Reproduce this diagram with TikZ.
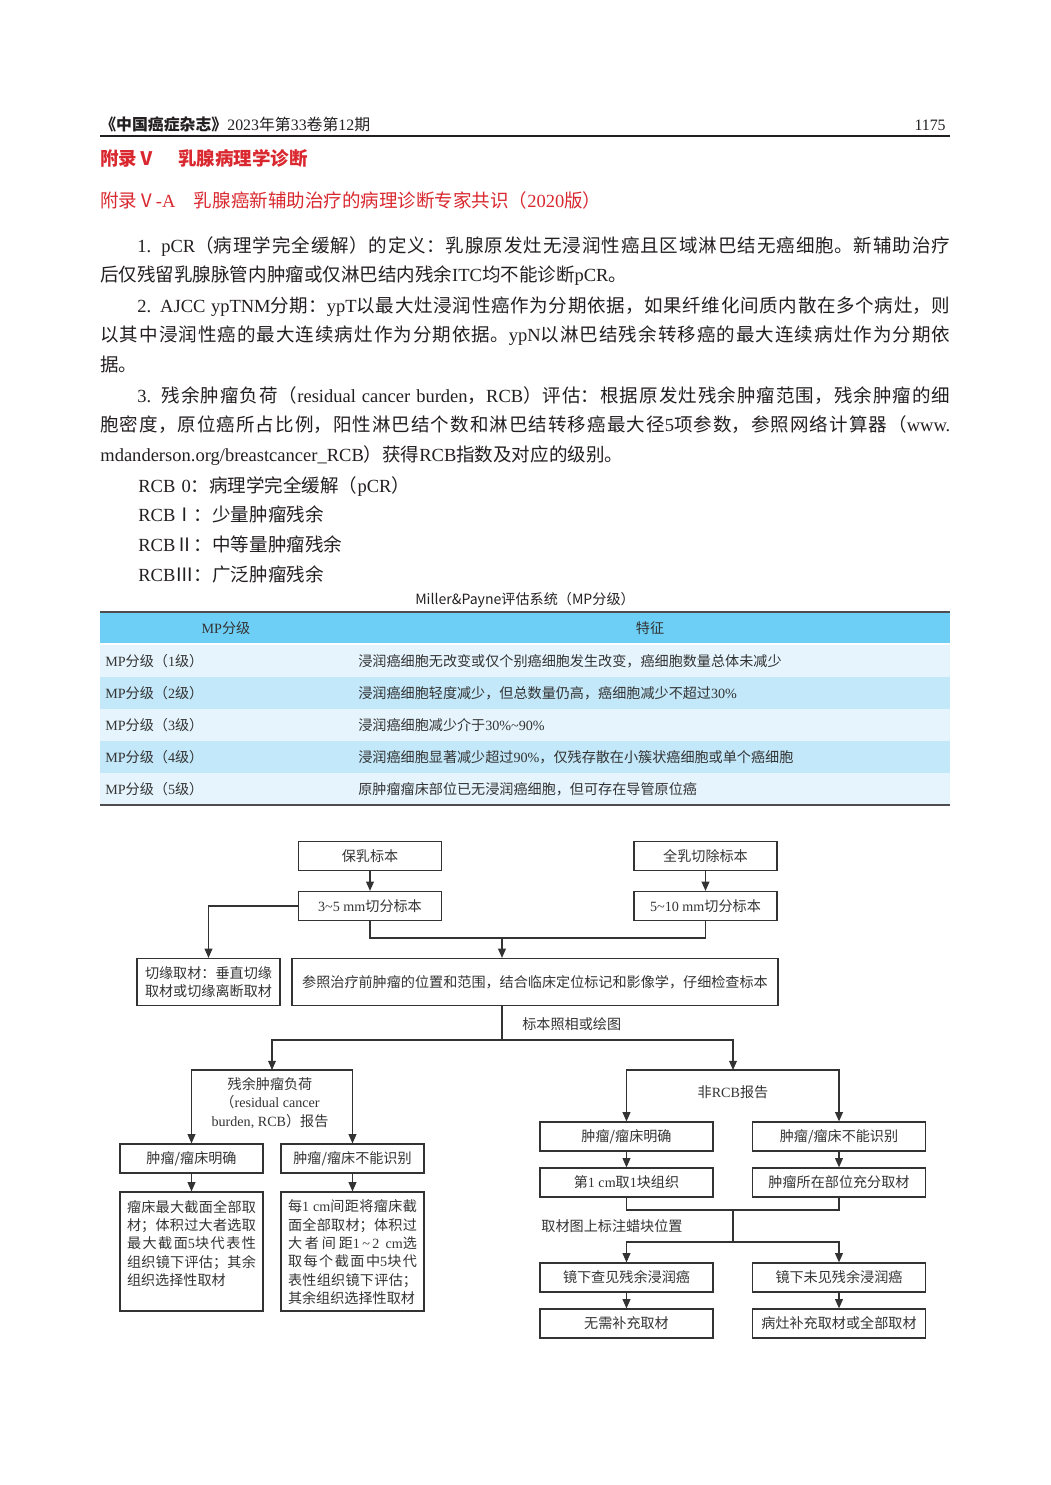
\documentclass[tikz,border=0pt]{standalone}
\usepackage{fontspec}
\setmainfont{Noto Sans CJK SC}
\newfontfamily\latinserif{Liberation Serif}
\newcommand\en[1]{{\latinserif #1}}
\usetikzlibrary{arrows.meta,positioning}
\XeTeXlinebreaklocale "zh"
\XeTeXlinebreakskip=0pt plus 1pt
\newlength\px
\setlength\px{0.567pt}
\definecolor{ink}{HTML}{231F20}
\definecolor{redhead}{HTML}{D9282F}
\definecolor{tblhead}{HTML}{6DCFF6}
\definecolor{rowlight}{HTML}{E6F5FD}
\definecolor{rowdark}{HTML}{C3E8F9}
\definecolor{rulegray}{HTML}{4D4D4F}
\definecolor{flowline}{HTML}{333333}
\newcommand\bodysize{\fontsize{10.5pt}{17pt}\selectfont}
\newcommand\flowsize{\fontsize{8pt}{10.4pt}\selectfont}
\newcommand\tablesize{\fontsize{8pt}{10pt}\selectfont}
\tikzset{
  pixels/.style={x=0.567pt, y=-0.567pt},
  bodytext/.style={anchor=base west, inner sep=0pt, text width=850\px, align=justify, font=\bodysize, text=ink},
  headred/.style={anchor=base west, inner sep=0pt, font=\bodysize, text=redhead},
  cell/.style={anchor=west, inner sep=0pt, font=\tablesize, text=flowline},
  flowbox/.style={shape=rectangle, draw=flowline, line width=0.7pt, inner sep=0pt, minimum height=29\px, font=\flowsize, text=flowline},
  narrowbox/.style={flowbox, minimum width=143\px},
  widebox/.style={flowbox, minimum width=173\px},
  flowlabel/.style={inner sep=0pt, font=\flowsize, text=flowline},
  link/.style={draw=flowline, line width=0.7pt},
  arrowlink/.style={link, -{Triangle[length=5.2pt, width=4.4pt]}},
}
\begin{document}
\begin{tikzpicture}[pixels]
    \useasboundingbox (0,0) rectangle (1050,1485);
    % running head
    \node[anchor=base west, inner sep=0pt, font=\fontsize{9pt}{11pt}\selectfont, text=ink] (journal) at (100,130) {{\bfseries《中国癌症杂志》}\en{2023}年第\en{33}卷第\en{12}期};
    \node[anchor=base east, inner sep=0pt, font=\fontsize{9pt}{11pt}\selectfont, text=ink] (pageno) at (946,130) {\en{1175}};
    \draw[ink, line width=0.6pt] (100,136) -- (950,136);
    \node[headred, font=\bodysize\bfseries] (appendix) at (100,165) {附录Ⅴ\hspace{1.2em}乳腺病理学诊断};
    \node[headred] (consensus) at (100,207) {附录Ⅴ\en{-A}\hspace{1em}乳腺癌新辅助治疗的病理诊断专家共识（\en{2020}版）};
    % body
    \node[bodytext] (pcr) at (100,252) {\hspace*{2em}\en{1. pCR}（病理学完全缓解）的定义：乳腺原发灶无浸润性癌且区域淋巴结无癌细胞。新辅助治疗\linebreak 后仅残留乳腺脉管内肿瘤或仅淋巴结内残余\en{ITC}均不能诊断\en{pCR}。};
    \node[bodytext] (ajcc) at (100,312) {\hspace*{2em}\en{2. AJCC ypTNM}分期：\en{ypT}以最大灶浸润性癌作为分期依据，如果纤维化间质内散在多个病灶，则\linebreak 以其中浸润性癌的最大连续病灶作为分期依据。\en{ypN}以淋巴结残余转移癌的最大连续病灶作为分期依\linebreak 据。};
    \node[bodytext] (burden) at (100,402) {\hspace*{2em}\en{3. }残余肿瘤负荷（\en{residual cancer burden}，\en{RCB}）评估：根据原发灶残余肿瘤范围，残余肿瘤的细\linebreak 胞密度，原位癌所占比例，阳性淋巴结个数和淋巴结转移癌最大径\en{5}项参数，参照网络计算器（\en{www.}\linebreak \en{mdanderson.org/breastcancer\_RCB}）获得\en{RCB}指数及对应的级别。};
    \node[bodytext, text width=500\px, align=left] (grades) at (138,492) {\en{RCB 0}：病理学完全缓解（\en{pCR}）\\ \en{RCB}Ⅰ：少量肿瘤残余\\ \en{RCB}Ⅱ：中等量肿瘤残余\\ \en{RCB}Ⅲ：广泛肿瘤残余};
    % table
    \node[inner sep=0pt, font=\tablesize, text=ink] (mptitle) at (525,600) {Miller\&Payne评估系统（MP分级）};
    \fill[tblhead] (100,613) rectangle (950,643);
    \fill[rowlight] (100,645) rectangle (950,677);
    \fill[rowdark] (100,677) rectangle (950,709);
    \fill[rowlight] (100,709) rectangle (950,741);
    \fill[rowdark] (100,741) rectangle (950,773);
    \fill[rowlight] (100,773) rectangle (950,804);
    \draw[rulegray, line width=1.2pt] (100,612) -- (950,612);
    \draw[rulegray, line width=1.4pt] (100,805) -- (950,805);
    \node[cell, anchor=center] (hgrade) at (226,628) {\en{MP}分级};
    \node[cell, anchor=center] (hfeature) at (650,628) {特征};
    \node[cell] (g1) at (105,661) {\en{MP}分级（\en{1}级）};
    \node[cell] (f1) at (358,661) {浸润癌细胞无改变或仅个别癌细胞发生改变，癌细胞数量总体未减少};
    \node[cell] (g2) at (105,693) {\en{MP}分级（\en{2}级）};
    \node[cell] (f2) at (358,693) {浸润癌细胞轻度减少，但总数量仍高，癌细胞减少不超过\en{30\%}};
    \node[cell] (g3) at (105,725) {\en{MP}分级（\en{3}级）};
    \node[cell] (f3) at (358,725) {浸润癌细胞减少介于\en{30\%\textasciitilde 90\%}};
    \node[cell] (g4) at (105,757) {\en{MP}分级（\en{4}级）};
    \node[cell] (f4) at (358,757) {浸润癌细胞显著减少超过\en{90\%}，仅残存散在小簇状癌细胞或单个癌细胞};
    \node[cell] (g5) at (105,789) {\en{MP}分级（\en{5}级）};
    \node[cell] (f5) at (358,789) {原肿瘤瘤床部位已无浸润癌细胞，但可存在导管原位癌};
    % flow chart
    \node[narrowbox] (conserve) at (370,856) {保乳标本};
    \node[narrowbox] (mastect) at (705.5,856) {全乳切除标本};
    \node[narrowbox] (slice35) at (370,906) {\en{3\textasciitilde 5 mm}切分标本};
    \node[narrowbox] (slice510) at (705.5,906) {\en{5\textasciitilde 10 mm}切分标本};
    \node[narrowbox, minimum height=47\px, align=center] (margin) at (208.5,982) {切缘取材：垂直切缘\\取材或切缘离断取材};
    \node[flowbox, minimum width=486\px, minimum height=47\px] (inspect) at (535,982) {参照治疗前肿瘤的位置和范围，结合临床定位标记和影像学，仔细检查标本};
    \draw[arrowlink] (conserve) -- (slice35);
    \draw[arrowlink] (mastect) -- (slice510);
    \draw[arrowlink] (slice35.west) -| (margin.north);
    \coordinate (merge) at (502,938);
    \draw[link] (slice35.south) |- (merge) -| (slice510.south);
    \draw[arrowlink] (merge) -- (merge |- inspect.north);
    \coordinate (split) at (502,1040);
    \coordinate (rcbhead) at (272,1070);
    \coordinate (nonhead) at (733,1070);
    \draw[link] (inspect.south -| split) -- (split);
    \node[flowlabel, anchor=west] (photo) at (522,1024) {标本照相或绘图};
    \draw[arrowlink] (split) -| (rcbhead);
    \draw[arrowlink] (split) -| (nonhead);
    \node[flowlabel, align=center] (rcb) at (270,1103) {残余肿瘤负荷\\（\en{residual cancer}\\\en{burden, RCB}）报告};
    \node[flowlabel] (nonrcb) at (733,1092) {非\en{RCB}报告};
    \node[narrowbox] (lclear) at (191.5,1158.5) {肿瘤/瘤床明确};
    \node[narrowbox] (lunknown) at (352.5,1158.5) {肿瘤/瘤床不能识别};
    \draw[arrowlink] (rcbhead) -| (lclear.north);
    \draw[arrowlink] (rcbhead) -| (lunknown.north);
    \node[narrowbox, minimum height=119\px] (lsample) at (191.5,1251.5) {\parbox[c][103\px][t]{129\px}{瘤床最大截面全部取\linebreak 材；体积过大者选取\linebreak 最大截面\en{5}块代表性\linebreak 组织镜下评估；其余\linebreak 组织选择性取材}};
    \node[narrowbox, minimum height=119\px] (rsample) at (352.5,1251.5) {\parbox[c][103\px][t]{129\px}{每\en{1 cm}间距将瘤床截\linebreak 面全部取材；体积过\linebreak 大者间距\en{1\,\textasciitilde\,2 cm}选\linebreak 取每个截面中\en{5}块代\linebreak 表性组织镜下评估；\linebreak 其余组织选择性取材}};
    \draw[arrowlink] (lclear) -- (lsample);
    \draw[arrowlink] (lunknown) -- (rsample);
    \node[widebox] (nclear) at (626.5,1136.5) {肿瘤/瘤床明确};
    \node[widebox] (nunknown) at (839,1136.5) {肿瘤/瘤床不能识别};
    \draw[arrowlink] (nonhead) -| (nclear.north);
    \draw[arrowlink] (nonhead) -| (nunknown.north);
    \node[widebox] (firstcm) at (626.5,1182.5) {第\en{1 cm}取\en{1}块组织};
    \node[widebox] (fullsample) at (839,1182.5) {肿瘤所在部位充分取材};
    \draw[arrowlink] (nclear) -- (firstcm);
    \draw[arrowlink] (nunknown) -- (fullsample);
    \coordinate (nmerge) at (733,1210);
    \coordinate (nsplit) at (733,1242);
    \draw[link] (firstcm.south) |- (nmerge) -| (fullsample.south);
    \draw[link] (nmerge) -- (nsplit);
    \node[flowlabel] (blocks) at (612,1226) {取材图上标注蜡块位置};
    \node[widebox] (residual) at (626.5,1277.5) {镜下查见残余浸润癌};
    \node[widebox] (noresidual) at (839,1277.5) {镜下未见残余浸润癌};
    \draw[arrowlink] (nsplit) -| (residual.north);
    \draw[arrowlink] (nsplit) -| (noresidual.north);
    \node[widebox] (noextra) at (626.5,1323.5) {无需补充取材};
    \node[widebox] (extra) at (839,1323.5) {病灶补充取材或全部取材};
    \draw[arrowlink] (residual) -- (noextra);
    \draw[arrowlink] (noresidual) -- (extra);
\end{tikzpicture}
\end{document}
